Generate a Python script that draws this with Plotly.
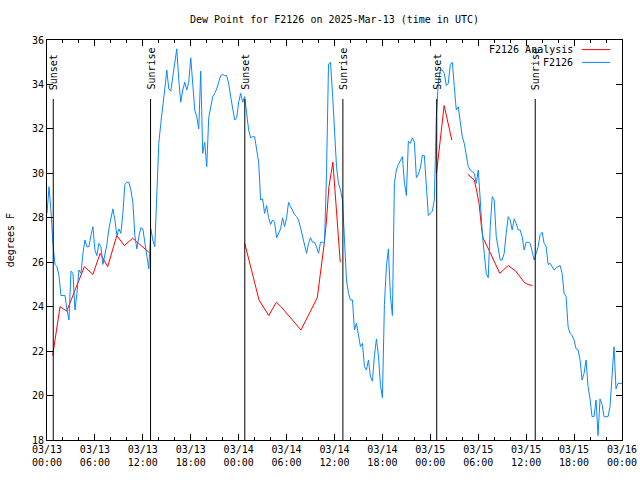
import pandas as pd
import plotly.graph_objects as go

START = pd.Timestamp("2025-03-13 00:00")
END = pd.Timestamp("2025-03-16 00:00")
BLUE_STEP_MIN = 15

# F2126 observations (deg F), every 15 minutes from 03/13 00:00 UTC
BLUE_VALUES = [
    28.2, 29.4, 28.3, 26.8, 25.9, 25.8, 25.4, 24.5, 24.5, 24.5,
    23.85, 23.4, 25.6, 25.5, 23.85, 24.6, 25.65, 25.5, 26.4, 27.0,
    26.7, 26.7, 27.2, 27.6, 26.55, 26.3, 26.85, 26.7, 25.9, 26.3,
    26.8, 27.5, 28.0, 28.4, 27.9, 27.2, 27.5, 27.3, 28.2, 29.5,
    29.6, 29.6, 29.25, 28.7, 27.2, 26.6, 27.15, 27.55,
    27.5, 26.9, 26.1, 25.7, 27.5, 27.0, 26.7, 28.95, 31.35, 32.25,
    33.2, 33.8, 34.65, 33.8, 33.7, 34.35, 35.05, 35.6, 34.2, 33.2,
    33.75, 34.1, 33.75, 34.1, 35.2, 33.8, 32.85, 32.55, 32.0, 34.6,
    30.9, 31.4, 30.3, 32.5, 33.0, 33.45, 33.6, 33.8, 34.1, 34.4,
    34.45, 34.4, 34.4, 34.05, 33.45, 32.85, 32.4, 32.5,
    33.2, 33.6, 33.2, 33.45, 32.8, 31.95, 31.6, 31.65, 31.65, 31.1,
    30.5, 28.8, 28.85, 28.2, 28.55, 28.0, 27.7, 27.9, 27.8, 27.1,
    27.3, 27.5, 28.0, 27.6, 28.0, 28.7, 28.5, 28.3, 28.15, 28.05,
    27.9, 27.55, 27.2, 26.8, 26.4, 26.85, 27.1, 26.9, 26.9, 26.7,
    26.4, 26.9, 26.9, 26.85, 30.0, 34.9, 35.0, 33.6,
    31.65, 30.3, 29.55, 29.25, 28.8, 27.0, 25.2, 24.6, 24.3, 24.3,
    22.95, 23.25, 22.8, 22.2, 22.35, 21.3, 21.15, 21.6, 20.85, 20.65,
    21.8, 22.55, 21.8, 20.5, 19.9, 24.1, 25.8, 26.6, 24.5, 23.6,
    29.55, 30.15, 30.4, 30.6, 30.75, 29.6, 29.0, 31.45, 31.35, 31.6,
    31.4, 29.8, 29.95, 30.25, 30.8, 30.8, 29.2, 28.1,
    28.2, 28.3, 28.8, 32.5, 34.1, 34.65, 34.65, 34.5, 33.95, 34.05,
    34.9, 35.0, 33.9, 32.85, 33.0, 32.4, 31.65, 31.35, 30.75, 30.3,
    30.15, 30.05, 30.0, 29.55, 30.15, 28.8, 27.3, 26.4, 25.5, 25.3,
    27.6, 28.95, 28.8, 27.15, 26.7, 26.1, 26.1, 26.4, 27.3, 28.05,
    27.9, 27.45, 27.95, 27.75, 27.45, 27.45, 27.15, 26.55,
    26.9, 26.9, 26.85, 26.4, 26.1, 26.4, 26.7, 27.25, 27.35, 26.85,
    26.7, 25.9, 25.95, 25.8, 25.65, 25.75, 25.8, 25.85, 25.5, 24.6,
    24.45, 23.1, 22.8, 22.7, 22.5, 22.1, 22.05, 21.6, 20.7, 21.0,
    21.6, 20.4, 19.85, 19.05, 19.05, 19.8, 18.2, 19.85, 19.6, 19.05,
    19.05, 19.05, 19.5, 21.15, 22.2, 20.3, 20.55, 20.55, 20.55,
]

# F2126 Analysis: hours after 03/13 00:00 UTC and values (None = gap)
RED_HOURS = [
    0.71, 1.63, 2.47, 4.68, 5.75, 6.65, 7.6, 8.74, 9.68, 10.73, 12.75, None,
    24.76, 26.55, 27.77, 28.72, 29.3, 31.8, 33.84, 34.3, 34.7, 35.0, 35.3, 35.8,
    36.0, 36.3, 36.5, 36.72, None,
    48.77, 49.73, 50.69, None,
    52.66, 53.5, 53.75, 54.1, 54.4, 54.6, 55.4, 56.7, 57.75, 58.7, 59.75, 60.2, 60.8,
]
RED_VALUES = [
    21.8, 24.0, 23.8, 25.8, 25.45, 26.4, 25.8, 27.2, 26.75, 27.08, 26.45, None,
    26.85, 24.3, 23.6, 24.2, 24.0, 22.95, 24.4, 25.6, 26.8, 27.9, 29.4, 30.5,
    29.6, 28.2, 27.0, 26.0, None,
    30.0, 33.05, 31.5, None,
    29.97, 29.7, 29.3, 28.65, 27.6, 27.1, 26.5, 25.5, 25.85, 25.6, 25.1, 25.0, 24.95,
]

EVENT_LABELS = ["Sunset", "Sunrise", "Sunset", "Sunrise", "Sunset", "Sunrise"]
EVENT_TIMES = ["2025-03-13 00:47", "2025-03-13 12:58", "2025-03-14 00:46",
               "2025-03-14 13:03", "2025-03-15 00:48", "2025-03-15 13:08"]

SERIES_NAMES = ["F2126 Analysis", "F2126"]
SERIES_COLORS = ["#ff0000", "#0a88ff"]

FONT = "DejaVu Sans Mono"

blue_x = [START + pd.Timedelta(minutes=BLUE_STEP_MIN * i) for i in range(len(BLUE_VALUES))]
red_x = [None if h is None else START + pd.Timedelta(hours=h) for h in RED_HOURS]

fig = go.Figure()
fig.add_trace(go.Scatter(x=red_x, y=RED_VALUES, mode="lines", name=SERIES_NAMES[0],
                         line=dict(color=SERIES_COLORS[0], width=1), connectgaps=False))
fig.add_trace(go.Scatter(x=blue_x, y=BLUE_VALUES, mode="lines", name=SERIES_NAMES[1],
                         line=dict(color=SERIES_COLORS[1], width=1)))

shapes = []
annotations = []
for lab, t in zip(EVENT_LABELS, EVENT_TIMES):
    shapes.append(dict(type="line", xref="x", yref="paper", x0=t, x1=t, y0=0, y1=0.8525,
                       line=dict(color="black", width=1), layer="above"))
    annotations.append(dict(text=lab, x=t, xref="x", y=0.87, yref="paper",
                            textangle=-90, xanchor="center", yanchor="bottom",
                            showarrow=False, font=dict(family=FONT, size=10, color="black")))

# custom gnuplot-style key (text right, sample line after)
key_y = [0.976, 0.944]
for name, col, ky in zip(SERIES_NAMES, SERIES_COLORS, key_y):
    annotations.append(dict(text=name, x=0.919, xref="paper", y=ky, yref="paper",
                            xanchor="right", yanchor="middle", showarrow=False,
                            font=dict(family=FONT, size=10, color="black")))
    shapes.append(dict(type="line", xref="paper", yref="paper", x0=0.9304, x1=0.9797,
                       y0=ky, y1=ky, line=dict(color=col, width=1)))

annotations.append(dict(text="degrees F", x=-0.064, xref="paper", y=0.5, yref="paper",
                        textangle=-90, xanchor="center", yanchor="middle", showarrow=False,
                        font=dict(family=FONT, size=10, color="black")))

fig.update_layout(
    width=640, height=480,
    margin=dict(l=47, r=18, t=40, b=40, autoexpand=False),
    paper_bgcolor="white", plot_bgcolor="white",
    showlegend=False,
    font=dict(family=FONT, size=10, color="black"),
    title=dict(text="Dew Point for F2126 on 2025-Mar-13 (time in UTC)",
               x=0.5, xref="paper", xanchor="center",
               y=1 - 19 / 480, yref="container", yanchor="middle",
               font=dict(family=FONT, size=10, color="black")),
    shapes=shapes, annotations=annotations,
)
fig.update_xaxes(
    range=[START, END], type="date", automargin=False,
    tickformat="%m/%d<br>%H:%M", dtick=6 * 3600 * 1000, tick0=START,
    ticks="inside", ticklen=6, tickcolor="black",
    minor=dict(dtick=2 * 3600 * 1000, ticks="inside", ticklen=3, tickcolor="black"),
    showline=True, linecolor="black", linewidth=1, mirror="ticks",
    showgrid=False, zeroline=False,
    tickfont=dict(family=FONT, size=10, color="black"),
)
fig.update_yaxes(
    range=[18, 36], dtick=2, tick0=18, automargin=False,
    ticks="inside", ticklen=6, tickcolor="black",
    showline=True, linecolor="black", linewidth=1, mirror="ticks",
    showgrid=False, zeroline=False,
    tickfont=dict(family=FONT, size=10, color="black"),
)

fig.write_html("out.html",
               config={"displayModeBar": False},
               post_script="document.body.style.margin='0px';document.body.style.padding='0px';")
